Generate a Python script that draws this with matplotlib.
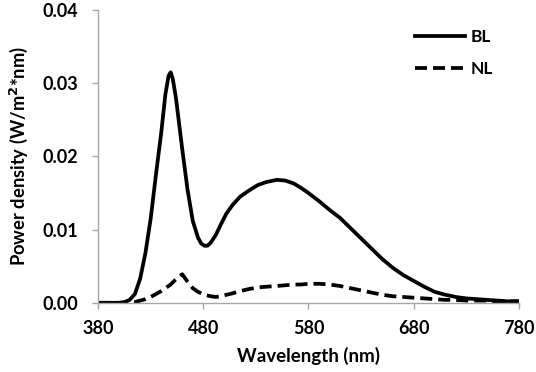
import matplotlib
matplotlib.use('Agg')
import matplotlib.pyplot as plt

#%% Data
wavelength = [380, 390, 400, 405, 410, 415, 420, 425, 430, 435, 440, 444, 447, 449,
              451, 454, 457, 460, 465, 470, 475, 478, 481, 484, 487, 492, 497, 502, 508,
              515, 524, 532, 540, 550, 558, 566, 573, 580, 590, 600, 610, 620, 630,
              640, 650, 660, 670, 680, 690, 700, 710, 720, 730, 740, 750, 760, 770, 780]

bl = [0, 0, 0, 0.0001, 0.0004, 0.0012, 0.0033, 0.0068, 0.0115, 0.0175, 0.0232, 0.0285,
      0.0310, 0.0315, 0.0306, 0.0280, 0.0245, 0.0210, 0.0155, 0.0112, 0.0089, 0.0081,
      0.0078, 0.0078, 0.0082, 0.0093, 0.0108, 0.0122, 0.0134, 0.0145, 0.0154, 0.0161,
      0.0165, 0.0168, 0.0167, 0.0163, 0.0157, 0.0150, 0.0139, 0.0127, 0.0116, 0.0102,
      0.0088, 0.0074, 0.0060, 0.0048, 0.0038, 0.0030, 0.0022, 0.0015, 0.0011, 0.0008,
      0.0006, 0.0005, 0.0004, 0.0003, 0.0002, 0.0002]

nl = [0, 0, 0, 0, 0.0001, 0.0001, 0.0003, 0.0005, 0.0008, 0.0012, 0.0016, 0.0020,
      0.0023, 0.0025, 0.0028, 0.0032, 0.0036, 0.0039, 0.0029, 0.0020, 0.0015, 0.0013,
      0.0011, 0.0010, 0.0009, 0.0008, 0.0009, 0.0011, 0.0013, 0.0016, 0.0019, 0.0021,
      0.0022, 0.0023, 0.0024, 0.0025, 0.0025, 0.0026, 0.0026, 0.0025, 0.0023, 0.0020,
      0.0017, 0.0014, 0.0011, 0.0009, 0.0008, 0.0007, 0.0006, 0.0005, 0.0004, 0.0004,
      0.0003, 0.0003, 0.0003, 0.0002, 0.0002, 0.0002]

x_ticks = [380, 480, 580, 680, 780]
y_ticks = [0.00, 0.01, 0.02, 0.03, 0.04]

#%% Plot
plt.rcParams['font.family'] = ['Lato', 'DejaVu Sans']
plt.rcParams['font.weight'] = 'bold'

fig = plt.figure(figsize=(5.36, 3.72), dpi=100)
ax = fig.add_axes([0.183, 0.186, 0.785, 0.787])

ax.plot(wavelength, bl, color='black', lw=2.7, label='BL')
ax.plot(wavelength, nl, color='black', lw=2.7, ls=(0, (3.2, 1.6)), label='NL')

ax.set_xlim(380, 780)
ax.set_ylim(0, 0.04)
ax.set_xticks(x_ticks)
ax.set_yticks(y_ticks)
ax.set_yticklabels([f'{v:.2f}' for v in y_ticks])

for side in ['top', 'right']:
    ax.spines[side].set_visible(False)
for side in ['left', 'bottom']:
    ax.spines[side].set_color('#a6a6a6')
    ax.spines[side].set_linewidth(1.0)
ax.tick_params(axis='both', colors='#a6a6a6', length=4.5, width=1.0,
               labelcolor='black', labelsize=13)
ax.tick_params(axis='x', pad=8)
ax.tick_params(axis='y', pad=10)
for lab in ax.get_xticklabels() + ax.get_yticklabels():
    lab.set_fontweight('bold')

ax.set_xlabel('Wavelength (nm)', fontsize=13.5, fontweight='bold', labelpad=7)
ax.set_ylabel('Power density (W/m$^\\mathbf{2}$*nm)', fontsize=13.2, fontweight='bold', labelpad=9)

leg = ax.legend(loc='upper right', bbox_to_anchor=(0.975, 0.99), frameon=False,
                fontsize=12.5, handlelength=2.9, handletextpad=0.3, labelspacing=0.95)
for t in leg.get_texts():
    t.set_fontweight('bold')

plt.savefig('out.png', dpi=100)
plt.close()
